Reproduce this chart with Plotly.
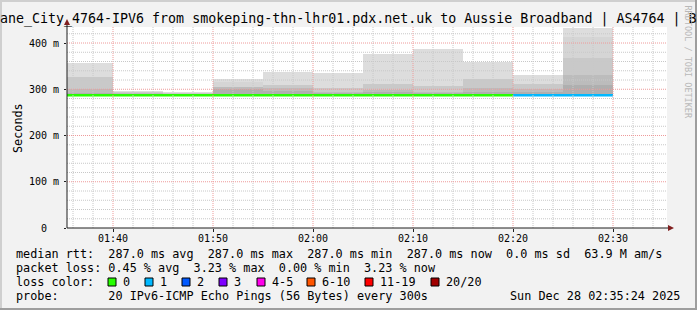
import plotly.graph_objects as go
from datetime import datetime, timedelta

# ---------------- data ----------------
day = "2025-12-28"
interval_end = ["01:40", "01:45", "01:50", "01:55", "02:00", "02:05",
                "02:10", "02:15", "02:20", "02:25", "02:30"]
median_ms = [287.0, 287.0, 287.0, 287.0, 287.0, 287.0,
             287.0, 287.0, 287.0, 287.0, 287.0]
loss_pings = [0, 0, 0, 0, 0, 0, 0, 0, 0, 1, 1]
# smoke layers (outermost -> innermost), top of each band in ms
smoke_l1 = [357, 297, 295, 322, 338, 336, 377, 387, 360, 331, 432]
smoke_l2 = [327, 293, 292, 316, 309, 303, 312, 307, 322, 312, 413]
smoke_l3 = [327, 293, 292, 305, 309, 303, 312, 307, 322, 312, 368]
smoke_l4 = [300, 291, 290, 305, 302, 295, 298, 295, 302, 300, 331]
smoke_l5 = [292, 289, 288, 300, 296, 291, 294, 291, 295, 294, 310]

y_tick_vals = [0, 100, 200, 300, 400]
y_tick_text = ["0", "100 m", "200 m", "300 m", "400 m"]
x_tick_labels = ["01:40", "01:50", "02:00", "02:10", "02:20", "02:30"]

loss_legend_labels = ["0", "1", "2", "3", "4-5", "6-10", "11-19", "20/20"]
loss_legend_colors = ["#26ff00", "#00b8ff", "#0059ff", "#7e00ff",
                      "#ff00ea", "#ff5500", "#ff0000", "#a10000"]

title_text = "ane_City_4764-IPV6 from smokeping-thn-lhr01.pdx.net.uk to Aussie Broadband | AS4764 | B"
line_rtt = "median rtt:  287.0 ms avg  287.0 ms max  287.0 ms min  287.0 ms now  0.0 ms sd  63.9 M am/s"
line_loss = "packet loss: 0.45 % avg  3.23 % max  0.00 % min  3.23 % now"
line_lc = "loss color:"
line_probe = "probe:       20 IPv6-ICMP Echo Pings (56 Bytes) every 300s"
stamp = "Sun Dec 28 02:35:24 2025"
watermark = "RRDTOOL / TOBI OETIKER"

# ---------------- layout geometry ----------------
FW, FH = 697, 310
L, T = 67, 27
W, H = 600, 201
BOT = T + H
MONO = "DejaVu Sans Mono"
x_start = datetime(2025, 12, 28, 1, 35, 24)
x_end = datetime(2025, 12, 28, 2, 35, 24)


def ax(px):
    return (px - L) / W


def ay(py):
    return (BOT - py) / H


def nb(s):
    return s.replace(" ", "\u00a0")


def loss_bucket(n):
    if n <= 3:
        return n
    if n <= 5:
        return 4
    if n <= 10:
        return 5
    if n <= 19:
        return 6
    return 7


ends = [datetime.strptime(day + " " + t, "%Y-%m-%d %H:%M") for t in interval_end]
starts = [e - timedelta(minutes=5) for e in ends]
centers = [e - timedelta(seconds=150) for e in ends]

fig = go.Figure()

smoke_layers = [smoke_l1, smoke_l2, smoke_l3, smoke_l4, smoke_l5]
smoke_colors = ["#dddddd", "#d5d5d5", "#c9c9c9", "#bcbcbc", "#afafaf"]
for layer, col in zip(smoke_layers, smoke_colors):
    fig.add_trace(go.Bar(
        x=centers, y=[t - m for t, m in zip(layer, median_ms)], base=median_ms,
        width=300000, marker=dict(color=col, line=dict(width=0)),
        showlegend=False, hoverinfo="skip"))

# median line coloured by loss
for b, col in enumerate(loss_legend_colors):
    xs, ys = [], []
    for s, e, m, lp in zip(starts, ends, median_ms, loss_pings):
        if loss_bucket(lp) == b:
            xs += [s, e, None]
            ys += [m, m, None]
    if xs:
        fig.add_trace(go.Scatter(x=xs, y=ys, mode="lines",
                                 line=dict(color=col, width=2.5),
                                 showlegend=False, hoverinfo="skip"))

shapes = []
# grid (drawn above the smoke, like rrdtool)
GRID = "#c8c8c8"
MGRID = "#ee9a9a"
t = datetime(2025, 12, 28, 1, 36)
while t < x_end:
    major = (t.minute % 10 == 0)
    shapes.append(dict(type="line", xref="x", yref="paper", x0=t, x1=t, y0=0, y1=1,
                       line=dict(color=MGRID if major else GRID, width=1, dash="1px,1px"),
                       layer="above"))
    t += timedelta(minutes=2)
for v in range(20, 440, 20):
    major = (v % 100 == 0)
    shapes.append(dict(type="line", xref="paper", yref="y", x0=0, x1=1, y0=v, y1=v,
                       line=dict(color=MGRID if major else GRID, width=1, dash="1px,1px"),
                       layer="above"))

AXC = "#1f1f1f"
ARC = "#801f1f"
# axes with arrows
shapes.append(dict(type="line", xref="paper", yref="paper", x0=ax(L), x1=ax(669),
                   y0=ay(BOT), y1=ay(BOT), line=dict(color=AXC, width=1), layer="above"))
shapes.append(dict(type="line", xref="paper", yref="paper", x0=ax(L), x1=ax(L),
                   y0=ay(BOT), y1=ay(23), line=dict(color=AXC, width=1), layer="above"))
shapes.append(dict(type="path", xref="paper", yref="paper",
                   path=f"M {ax(668)} {ay(BOT-3)} L {ax(674)} {ay(BOT)} L {ax(668)} {ay(BOT+3)} Z",
                   fillcolor=ARC, line=dict(width=0), layer="above"))
shapes.append(dict(type="path", xref="paper", yref="paper",
                   path=f"M {ax(L-3)} {ay(25)} L {ax(L)} {ay(19)} L {ax(L+3)} {ay(25)} Z",
                   fillcolor=ARC, line=dict(width=0), layer="above"))

# frame (rrdtool 3D border)
shapes.append(dict(type="rect", xref="paper", yref="paper", x0=ax(0), x1=ax(FW),
                   y0=ay(0), y1=ay(2), fillcolor="#cfcfcf", line=dict(width=0)))
shapes.append(dict(type="rect", xref="paper", yref="paper", x0=ax(0), x1=ax(2),
                   y0=ay(0), y1=ay(FH), fillcolor="#cfcfcf", line=dict(width=0)))
shapes.append(dict(type="rect", xref="paper", yref="paper", x0=ax(0), x1=ax(FW),
                   y0=ay(FH - 2), y1=ay(FH), fillcolor="#9e9e9e", line=dict(width=0)))
shapes.append(dict(type="rect", xref="paper", yref="paper", x0=ax(FW - 2), x1=ax(FW),
                   y0=ay(0), y1=ay(FH), fillcolor="#9e9e9e", line=dict(width=0)))

# loss colour legend swatches
sw_x = [108, 145, 182, 219, 257, 307, 365, 431]
for px, col in zip(sw_x, loss_legend_colors):
    shapes.append(dict(type="rect", xref="paper", yref="paper",
                       x0=ax(px), x1=ax(px + 8), y0=ay(278), y1=ay(286),
                       fillcolor=col, line=dict(color="#000000", width=1)))

annotations = []


def text(px, py, s, size=11.8, anchor="left", color="#000000", angle=0, yanchor="middle"):
    annotations.append(dict(xref="paper", yref="paper", x=ax(px), y=ay(py),
                            text=nb(s), showarrow=False, xanchor=anchor, yanchor=yanchor,
                            textangle=angle, borderpad=0,
                            font=dict(family=MONO, size=size, color=color)))


text(-1, 19, title_text, size=13.3)
text(15, 254, line_rtt)
text(15, 268, line_loss)
text(15, 282, line_lc)
for px, lab in zip(sw_x, loss_legend_labels):
    text(px + 14, 282, lab)
text(15, 296, line_probe)
text(681, 296, stamp, anchor="right")
text(10, 128, "Seconds", angle=-90)
text(687, 4, watermark, size=8.5, color="#b8b8b8", angle=90, anchor="center", yanchor="top")

fig.update_layout(
    width=FW, height=FH,
    margin=dict(l=L, r=FW - L - W, t=T, b=FH - BOT, pad=0),
    paper_bgcolor="#f2f2f2", plot_bgcolor="#ffffff",
    barmode="overlay", bargap=0,
    showlegend=False,
    shapes=shapes, annotations=annotations,
    xaxis=dict(type="date", range=[x_start, x_end],
               tickvals=[datetime.strptime(day + " " + s, "%Y-%m-%d %H:%M") for s in x_tick_labels],
               ticktext=x_tick_labels, showgrid=False, zeroline=False, showline=False,
               ticks="outside", ticklen=3, tickcolor=AXC, ticklabelstandoff=-2,
               tickfont=dict(family=MONO, size=10, color="#000000"), fixedrange=True),
    yaxis=dict(range=[0, H / 0.4625], tickvals=y_tick_vals,
               ticktext=[nb(s.center(5)) for s in y_tick_text],
               showgrid=False, zeroline=False, showline=False,
               ticks="outside", ticklen=2, tickcolor=AXC, ticklabelstandoff=3,
               tickfont=dict(family=MONO, size=10, color="#000000"), fixedrange=True),
)

fig.write_html("out.html")
